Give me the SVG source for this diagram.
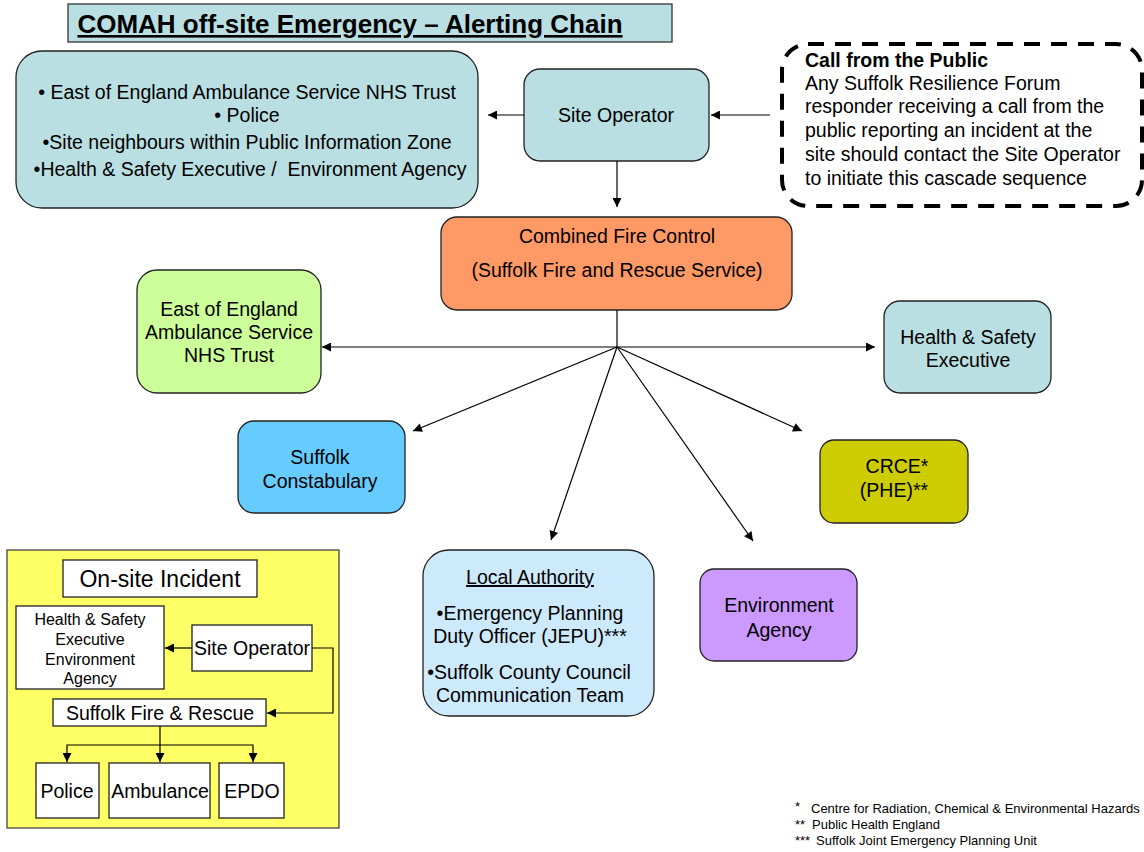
<svg xmlns="http://www.w3.org/2000/svg" width="1144" height="852" viewBox="0 0 1144 852">
<style>
text{font-family:"Liberation Sans",Arial,sans-serif;fill:#000}
.t18{font-size:19.5px}
.c{text-anchor:middle}
.box{stroke:#222;stroke-width:1.3}
.wb{fill:#fff;stroke:#222;stroke-width:1.3}
.ln{stroke:#000;stroke-width:1.2;fill:none}
</style>
<defs>
<marker id="ah" viewBox="0 0 10 10" refX="10" refY="5" markerWidth="11" markerHeight="9" markerUnits="userSpaceOnUse" orient="auto-start-reverse">
<path d="M0,0 L10,5 L0,10 z" fill="#000"/>
</marker>
</defs>
<rect width="1144" height="852" fill="#fff"/>

<g id="title">
<rect x="68" y="4" width="604" height="38" fill="#b9dfe2" stroke="#333" stroke-width="1.3"/>
<text x="350" y="33" class="c" font-size="26" font-weight="bold" text-decoration="underline">COMAH off-site Emergency – Alerting Chain</text>
</g>

<g id="notify-list">
<rect x="16" y="51" width="462" height="157" rx="26" fill="#b9dfe2" class="box"/>
<text x="247" y="99" class="t18 c">• East of England Ambulance Service NHS Trust</text>
<text x="247" y="122" class="t18 c">• Police</text>
<text x="247" y="149" class="t18 c">•Site neighbours within Public Information Zone</text>
<text x="250" y="176" class="t18 c">•Health &amp; Safety Executive /&#160; Environment Agency</text>
</g>

<g id="site-operator">
<rect x="524" y="69" width="185" height="92" rx="16" fill="#b9dfe2" class="box"/>
<text x="616" y="122" class="t18 c">Site Operator</text>
</g>

<g id="call-public">
<rect x="782" y="44" width="360" height="162" rx="26" fill="#fff" stroke="#000" stroke-width="4" stroke-dasharray="16 11"/>
<text x="805" y="67" class="t18" font-weight="bold">Call from the Public</text>
<text x="805" y="90" class="t18">Any Suffolk Resilience Forum</text>
<text x="805" y="113" class="t18">responder receiving a call from the</text>
<text x="805" y="137" class="t18">public reporting an incident at the</text>
<text x="805" y="161" class="t18">site should contact the Site Operator</text>
<text x="805" y="185" class="t18">to initiate this cascade sequence</text>
</g>

<g id="combined-fire-control">
<rect x="441" y="217" width="351" height="93" rx="16" fill="#ff9966" class="box"/>
<text x="617" y="243" class="t18 c">Combined Fire Control</text>
<text x="617" y="277" class="t18 c">(Suffolk Fire and Rescue Service)</text>
</g>

<g id="ambulance">
<rect x="137" y="270" width="184" height="123" rx="20" fill="#ccff99" class="box"/>
<text x="229" y="316" class="t18 c">East of England</text>
<text x="229" y="339" class="t18 c">Ambulance Service</text>
<text x="229" y="362" class="t18 c">NHS Trust</text>
</g>

<g id="hse">
<rect x="884" y="301" width="167" height="92" rx="16" fill="#b9dfe2" class="box"/>
<text x="968" y="344" class="t18 c">Health &amp; Safety</text>
<text x="968" y="367" class="t18 c">Executive</text>
</g>

<g id="constabulary">
<rect x="238" y="421" width="167" height="92" rx="16" fill="#66ccff" class="box"/>
<text x="320" y="464" class="t18 c">Suffolk</text>
<text x="320" y="488" class="t18 c">Constabulary</text>
</g>

<g id="crce">
<rect x="820" y="440" width="148" height="83" rx="14" fill="#cccc00" class="box"/>
<text x="897" y="473" class="t18 c">CRCE*</text>
<text x="894" y="497" class="t18 c">(PHE)**</text>
</g>

<g id="local-authority">
<rect x="423" y="550" width="231" height="166" rx="26" fill="#cdeafc" class="box"/>
<text x="530" y="584" class="t18 c" text-decoration="underline">Local Authority</text>
<text x="530" y="620" class="t18 c">•Emergency Planning</text>
<text x="530" y="643" class="t18 c">Duty Officer (JEPU)***</text>
<text x="529" y="679" class="t18 c">•Suffolk County Council</text>
<text x="530" y="702" class="t18 c">Communication Team</text>
</g>

<g id="environment-agency">
<rect x="700" y="569" width="157" height="92" rx="14" fill="#cc99ff" class="box"/>
<text x="779" y="612" class="t18 c">Environment</text>
<text x="779" y="637" class="t18 c">Agency</text>
</g>

<g id="onsite-panel">
<rect x="7" y="550" width="332" height="278" fill="#ffff66" stroke="#444" stroke-width="1.3"/>
<g id="onsite-title">
<rect x="63" y="560" width="194" height="37" class="wb"/>
<text x="160" y="587" class="c" font-size="23">On-site Incident</text>
</g>
<g id="onsite-hse-ea">
<rect x="16" y="606" width="148" height="83" class="wb"/>
<text x="90" y="625" class="c" font-size="16">Health &amp; Safety</text>
<text x="90" y="645" class="c" font-size="16">Executive</text>
<text x="90" y="665" class="c" font-size="16">Environment</text>
<text x="90" y="684" class="c" font-size="16">Agency</text>
</g>
<g id="onsite-operator">
<rect x="192" y="625" width="120" height="46" class="wb"/>
<text x="252" y="655" class="t18 c">Site Operator</text>
</g>
<g id="onsite-fire">
<rect x="53" y="699" width="213" height="27" class="wb"/>
<text x="160" y="720" class="t18 c">Suffolk Fire &amp; Rescue</text>
</g>
<g id="onsite-police">
<rect x="36" y="763" width="63" height="55" class="wb"/>
<text x="67" y="798" class="t18 c">Police</text>
</g>
<g id="onsite-ambulance">
<rect x="109" y="763" width="101" height="55" class="wb"/>
<text x="160" y="798" class="t18 c">Ambulance</text>
</g>
<g id="onsite-epdo">
<rect x="219" y="763" width="65" height="55" class="wb"/>
<text x="252" y="798" class="t18 c">EPDO</text>
</g>
</g>

<g id="connectors">
<line x1="524" y1="115" x2="488" y2="115" class="ln" marker-end="url(#ah)"/>
<line x1="770" y1="115" x2="711" y2="115" class="ln" marker-end="url(#ah)"/>
<line x1="617" y1="161" x2="617" y2="207" class="ln" marker-end="url(#ah)"/>
<line x1="617" y1="310" x2="617" y2="347" class="ln"/>
<line x1="322" y1="347" x2="875" y2="347" class="ln" marker-start="url(#ah)" marker-end="url(#ah)"/>
<line x1="617" y1="347" x2="413" y2="431" class="ln" marker-end="url(#ah)"/>
<line x1="617" y1="347" x2="551" y2="540" class="ln" marker-end="url(#ah)"/>
<line x1="617" y1="347" x2="753" y2="541" class="ln" marker-end="url(#ah)"/>
<line x1="617" y1="347" x2="802" y2="431" class="ln" marker-end="url(#ah)"/>
<line x1="192" y1="648" x2="165" y2="648" class="ln" marker-end="url(#ah)"/>
<polyline points="312,648 333,648 333,713 267,713" class="ln" marker-end="url(#ah)"/>
<line x1="160" y1="726" x2="160" y2="762" class="ln" marker-end="url(#ah)"/>
<polyline points="67,762 67,745 253,745 253,762" class="ln" marker-start="url(#ah)" marker-end="url(#ah)"/>
</g>

<g id="footnotes" font-size="13">
<text x="795" y="811">*</text>
<text x="811" y="813">Centre for Radiation, Chemical &amp; Environmental Hazards</text>
<text x="795" y="829">**</text>
<text x="812" y="829">Public Health England</text>
<text x="795" y="845">***</text>
<text x="816" y="845">Suffolk Joint Emergency Planning Unit</text>
</g>
</svg>
